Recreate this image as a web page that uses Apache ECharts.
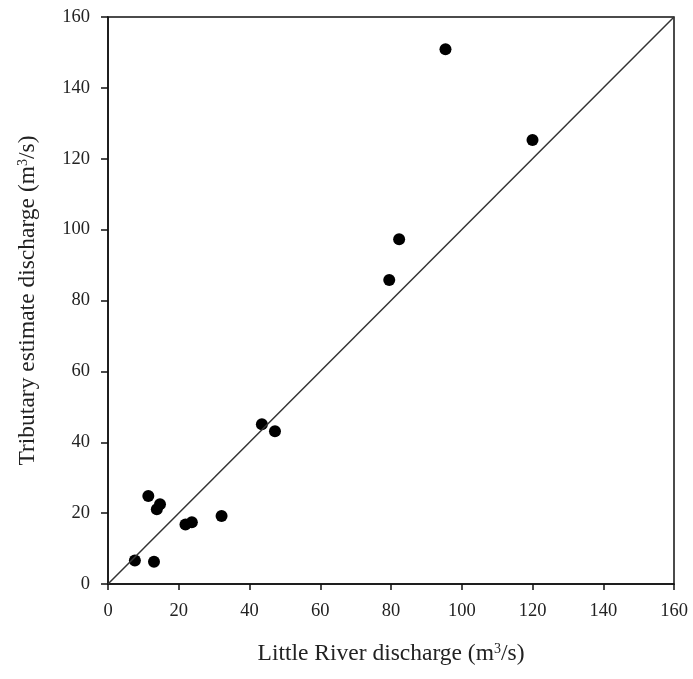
<!DOCTYPE html>
<html>
<head>
<meta charset="utf-8">
<script src="https://cdn.jsdelivr.net/npm/echarts@6/dist/echarts.min.js"></script>
<style>html,body{margin:0;padding:0;background:#fff;}#c{width:693px;height:679px;}</style>
</head>
<body>
<div id="c"></div>
<script>
const littleRiver = [95.4, 120.0, 82.3, 79.5, 43.5, 47.2, 32.1, 21.9, 23.7, 11.4, 14.7, 13.8, 7.6, 13.0];
const tributary   = [150.9, 125.3, 97.3, 85.8, 45.1, 43.1, 19.2, 16.8, 17.4, 24.8, 22.5, 21.1, 6.6, 6.3];
const oneToOne = [[0, 0], [160, 160]];
const ticks = [0, 20, 40, 60, 80, 100, 120, 140, 160];

const pts = littleRiver.map((x, i) => [x, tributary[i]]);
const font = '"Liberation Serif", "Times New Roman", serif';
const rich = {
  t: { fontFamily: font, fontSize: 23.5, color: '#222' },
  s: { fontFamily: font, fontSize: 14, color: '#222', verticalAlign: 'top', padding: [0, 0, 10, 0] }
};
const chart = echarts.init(document.getElementById('c'));
chart.setOption({
  animation: false,
  backgroundColor: '#fff',
  grid: { left: 108, right: 19, top: 17, bottom: 95, show: true, borderColor: '#111', borderWidth: 1.5 },
  xAxis: {
    type: 'value', min: ticks[0], max: ticks[ticks.length - 1], interval: 20,
    splitLine: { show: false },
    axisLine: { lineStyle: { color: '#111', width: 1.5 } },
    axisTick: { show: true, inside: false, length: 6, lineStyle: { color: '#111', width: 1.5 } },
    axisLabel: { margin: 18, color: '#222', fontFamily: font, fontSize: 18.5 },
    name: '{t|Little River discharge (m}{s|3}{t|/s)}',
    nameLocation: 'middle', nameGap: 58,
    nameTextStyle: { rich: rich }
  },
  yAxis: {
    type: 'value', min: ticks[0], max: ticks[ticks.length - 1], interval: 20,
    splitLine: { show: false },
    axisLine: { lineStyle: { color: '#111', width: 1.5 } },
    axisTick: { show: true, inside: false, length: 7, lineStyle: { color: '#111', width: 1.5 } },
    axisLabel: { margin: 18, color: '#222', fontFamily: font, fontSize: 18.5 },
    name: '{t|Tributary estimate discharge (m}{s|3}{t|/s)}',
    nameLocation: 'middle', nameGap: 68,
    nameTextStyle: { rich: rich }
  },
  series: [
    {
      type: 'line', data: oneToOne, symbol: 'none', silent: true,
      lineStyle: { color: '#333', width: 1.5 }
    },
    {
      type: 'scatter', data: pts, symbol: 'circle', symbolSize: 12,
      itemStyle: { color: '#000', opacity: 1 }
    }
  ]
});
</script>
</body>
</html>
